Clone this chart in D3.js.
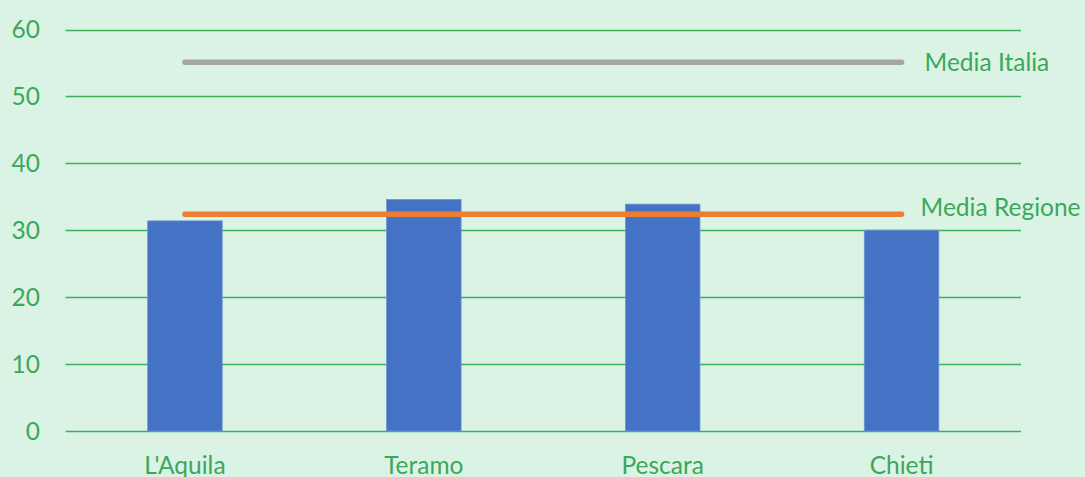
<!DOCTYPE html>
<html>
<head>
<meta charset="utf-8">
<script src="https://cdn.jsdelivr.net/npm/d3@7"></script>
<style>
  html, body { margin: 0; padding: 0; background: #dbf3e4; }
  svg { display: block; font-family: Lato, "Open Sans", sans-serif; }
</style>
</head>
<body>
<div id="chart"></div>
<script>
// Data
const categories = ["L'Aquila", "Teramo", "Pescara", "Chieti"];
const values = [31.4, 34.6, 33.9, 30.0];
const yTicks = [0, 10, 20, 30, 40, 50, 60];
const refNames = ["Media Italia", "Media Regione"];
const refValues = [55.1, 32.4];

const W = 1085, H = 477;
const textColor = "#3aa85a";
const gridColor = "#3daf55";
const fontSize = 24.5;

const svg = d3.select("#chart")
    .append("svg")
    .attr("width", W)
    .attr("height", H);

const x = d3.scaleBand()
    .domain(categories)
    .range([65.5, 1021])
    .paddingInner(0.688)
    .paddingOuter(0.344);

const y = d3.scaleLinear()
    .domain([0, 60])
    .range([431, 29.5]);

// Gridlines
svg.append("g")
    .selectAll("line")
    .data(yTicks)
    .enter()
    .append("line")
    .attr("x1", 65.5)
    .attr("x2", 1021)
    .attr("y1", d => Math.round(y(d)) + 0.5)
    .attr("y2", d => Math.round(y(d)) + 0.5)
    .attr("stroke", gridColor)
    .attr("stroke-width", 1.3);

// Y axis labels
svg.append("g")
    .selectAll("text")
    .data(yTicks)
    .enter()
    .append("text")
    .attr("x", 40)
    .attr("y", d => y(d))
    .attr("dy", "0.36em")
    .attr("text-anchor", "end")
    .attr("fill", textColor)
    .style("font-size", fontSize + "px")
    .text(d => d);

// Bars
svg.append("g")
    .selectAll("rect")
    .data(values)
    .enter()
    .append("rect")
    .attr("x", (d, i) => x(categories[i]))
    .attr("y", d => y(d))
    .attr("width", x.bandwidth())
    .attr("height", d => y(0) - y(d))
    .attr("fill", "#4472c4")
    .attr("stroke", "#6f93d4")
    .attr("stroke-width", 0.8);

// X labels
svg.append("g")
    .selectAll("text")
    .data(categories)
    .enter()
    .append("text")
    .attr("x", d => x(d) + x.bandwidth() / 2)
    .attr("y", 474)
    .attr("text-anchor", "middle")
    .attr("fill", textColor)
    .style("font-size", fontSize + "px")
    .text(d => d);

// Reference lines (drawn across category centres)
const xFirst = x(categories[0]) + x.bandwidth() / 2;
const xLast = x(categories[categories.length - 1]) + x.bandwidth() / 2;
const refColors = ["#a5a5a5", "#ed7d31"];
const labelShift = [0, -7];

refValues.forEach((v, i) => {
    svg.append("line")
        .attr("x1", xFirst)
        .attr("x2", xLast)
        .attr("y1", y(v))
        .attr("y2", y(v))
        .attr("stroke", refColors[i])
        .attr("stroke-width", 5.5)
        .attr("stroke-linecap", "round");

    svg.append("text")
        .attr("x", xLast + (i === 0 ? 23 : 19))
        .attr("y", y(v) + labelShift[i])
        .attr("dy", "0.36em")
        .attr("fill", textColor)
        .style("font-size", fontSize + "px")
        .text(refNames[i]);
});
</script>
</body>
</html>
